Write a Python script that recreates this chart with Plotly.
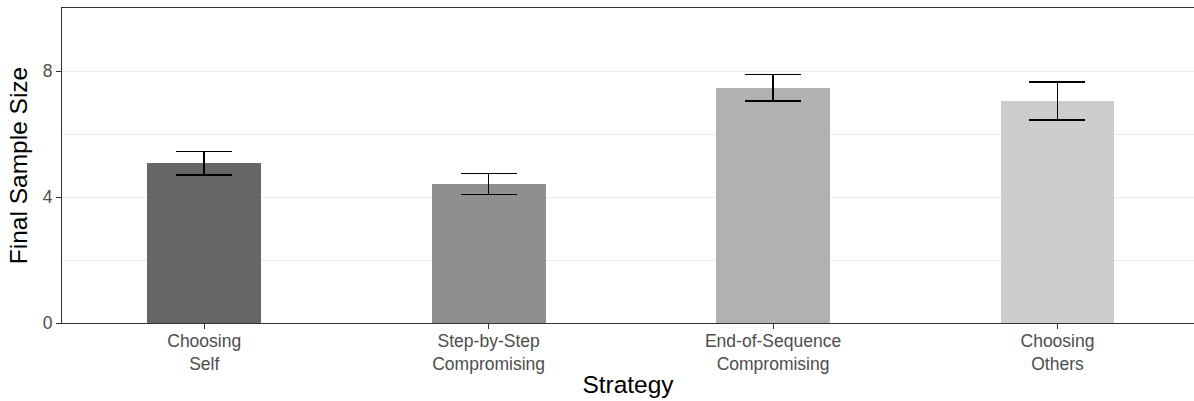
import plotly.graph_objects as go

# Mean final sample size per strategy, with standard errors
strategies = ["Choosing<br>Self", "Step-by-Step<br>Compromising",
              "End-of-Sequence<br>Compromising", "Choosing<br>Others"]
mean_size = [5.07, 4.41, 7.47, 7.05]
std_err = [0.37, 0.33, 0.42, 0.61]
bar_colors = ["#666666", "#8F8F8F", "#B1B1B1", "#CCCCCC"]
y_ticks = [0, 4, 8]

FONT = "Liberation Sans, Arial, sans-serif"

fig = go.Figure(
    go.Bar(
        x=strategies,
        y=mean_size,
        width=0.4,
        marker=dict(color=bar_colors, line=dict(width=0)),
        error_y=dict(type="data", array=std_err, visible=True,
                     color="black", thickness=1.6, width=28),
        showlegend=False,
    )
)

fig.update_layout(
    width=1194, height=401,
    margin=dict(l=62, r=0, t=8, b=78),
    paper_bgcolor="white", plot_bgcolor="white",
    font=dict(family=FONT, color="#4D4D4D", size=17),
    bargap=0,
)

fig.update_xaxes(
    range=[-0.5, 3.48],
    showgrid=False, zeroline=False,
    showline=True, linecolor="#333333", linewidth=1.1, mirror=True,
    ticks="outside", ticklen=5, tickcolor="#333333", tickwidth=1.1,
    ticklabelstandoff=-3,
    tickfont=dict(family=FONT, size=17.5, color="#4D4D4D"),
    title=dict(text="Strategy", font=dict(family=FONT, size=24.5, color="black"),
               standoff=3),
)

fig.update_yaxes(
    range=[0, 10],
    tickvals=y_ticks, ticktext=[str(v) for v in y_ticks],
    showgrid=True, gridcolor="#EBEBEB", gridwidth=1.1, zeroline=False,
    minor=dict(tickvals=[2, 6, 10], showgrid=True, gridcolor="#EBEBEB",
               gridwidth=0.6, ticklen=0),
    showline=True, linecolor="#333333", linewidth=1.1,
    ticks="outside", ticklen=5, tickcolor="#333333", tickwidth=1.1,
    tickfont=dict(family=FONT, size=17.5, color="#4D4D4D"),
    title=dict(text="Final Sample Size",
               font=dict(family=FONT, size=24.5, color="black"), standoff=8),
)

fig.write_html("out.html")
